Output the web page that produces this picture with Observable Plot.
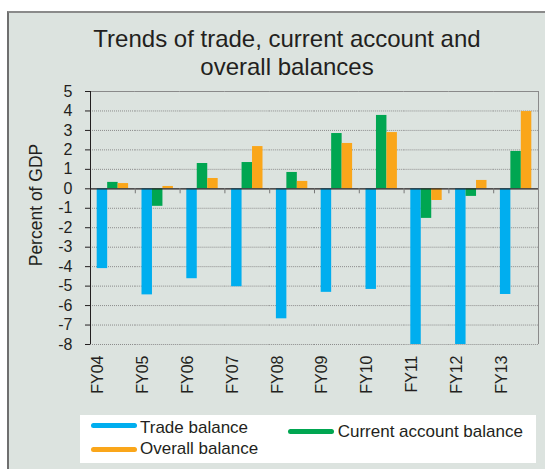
<!DOCTYPE html>
<html>
<head>
<meta charset="utf-8">
<script src="https://cdn.jsdelivr.net/npm/d3@7"></script>
<script src="https://cdn.jsdelivr.net/npm/@observablehq/plot@0.6"></script>
<style>
  html, body { margin: 0; padding: 0; background: #ffffff; }
  body { width: 545px; height: 469px; position: relative; overflow: hidden;
         font-family: "Liberation Sans", Arial, Helvetica, sans-serif; color: #231f20; }
  #frame { position: absolute; left: 7px; top: 11px; width: 560px; height: 480px;
           background: #dce3df; border-left: 2px solid #6f6f6f; border-top: 2px solid #8a8a8a; }
  #title { position: absolute; left: 37px; top: 25px; width: 500px; text-align: center;
           font-size: 24px; line-height: 28px; white-space: nowrap; }
  #ylabel { position: absolute; left: 36px; top: 205px; transform: translate(-50%, -50%) rotate(-90deg);
            font-size: 17.5px; white-space: nowrap; line-height: 17px; }
  #chart { position: absolute; left: 0; top: 80px; }
  #legend { position: absolute; left: 80px; top: 415px; width: 456px; height: 48px; background: #ffffff; }
  .sw { position: absolute; height: 5px; border-radius: 2.5px; width: 46px; }
  .lt { position: absolute; font-size: 17px; line-height: 17px; white-space: nowrap; }
</style>
</head>
<body>
<div id="frame"></div>
<div id="title">Trends of trade, current account and<br>overall balances</div>
<div id="ylabel">Percent of GDP</div>
<div id="chart"></div>
<div id="legend"></div>
<script>
// ---- data ----
const years = ["FY04", "FY05", "FY06", "FY07", "FY08", "FY09", "FY10", "FY11", "FY12", "FY13"];
const seriesNames = ["Trade balance", "Current account balance", "Overall balance"];
const seriesColors = ["#00aeef", "#00a651", "#faa61a"];
const tradeBalance   = [-4.10, -5.45, -4.62, -5.03, -6.68, -5.32, -5.17, -8.6, -8.4, -5.43];
const currentAccount = [ 0.33, -0.90,  1.30,  1.35,  0.84,  2.84,  3.77, -1.52, -0.39, 1.92];
const overallBalance = [ 0.27,  0.12,  0.53,  2.17,  0.38,  2.33,  2.89, -0.60,  0.43, 3.97];
const yTicks = [-8, -7, -6, -5, -4, -3, -2, -1, 0, 1, 2, 3, 4, 5];

const seriesValues = [tradeBalance, currentAccount, overallBalance];
const data = years.flatMap((yr, i) => seriesNames.map((s, k) => ({year: yr, series: s, value: seriesValues[k][i]})));

// ---- layout ----
const W = 545, H = 330, mL = 90, mR = 7, mT = 11, mB = 66;
const PO = 0.64;
const facetW = (W - mL - mR) / years.length;
const innerStep = facetW / (seriesNames.length + 2 * PO);
const edgeDx = innerStep / 2 + PO * innerStep;
const first = seriesNames[0], last = seriesNames[seriesNames.length - 1];
const ink = "#231f20", frameGrey = "#8a8a8a";

const chart = Plot.plot({
  width: W, height: H, marginLeft: mL, marginRight: mR, marginTop: mT, marginBottom: mB,
  style: {background: "transparent", fontFamily: "'Liberation Sans', Arial, sans-serif", fontSize: "16px", color: ink, overflow: "visible"},
  fx: {domain: years, padding: 0, round: false, axis: null, label: null},
  x: {domain: seriesNames, paddingInner: 0, paddingOuter: PO, round: false, axis: null},
  y: {domain: [-8, 5], clamp: true, axis: null},
  color: {domain: seriesNames, range: seriesColors},
  marks: [
    Plot.gridY(yTicks.filter(t => t !== 0 && t !== 5), {stroke: "#8c8c8c", strokeOpacity: 1, strokeDasharray: "1,1"}),
    Plot.ruleY([5], {stroke: frameGrey}),
    Plot.barY(data, {fx: "year", x: "series", y: "value", fill: "series"}),
    Plot.ruleY([0], {stroke: ink, strokeWidth: 1.3}),
    Plot.ruleX(years, {fx: d => d, x: () => last, dx: edgeDx, y1: 0, y2: 0, insetBottom: -5, stroke: "#777"}),
    Plot.ruleX([years[years.length - 1]], {fx: d => d, x: () => last, dx: edgeDx, y1: -8, y2: 5, stroke: frameGrey}),
    Plot.ruleX([years[0]], {fx: d => d, x: () => first, dx: -edgeDx, y1: -8, y2: 5, stroke: ink}),
    Plot.axisY({ticks: yTicks, tickSize: 5, tickPadding: 13, tickFormat: d => String(d), fontSize: 16, color: ink, label: null}),
    Plot.text(years, {fx: d => d, frameAnchor: "bottom", text: d => d, rotate: -90, textAnchor: "end", dy: 11, dx: -9.5, fontSize: 16, fill: ink})
  ]
});
document.getElementById("chart").appendChild(chart);

// ---- legend ----
const legend = document.getElementById("legend");
const legendPos = [
  {sw: [11, 8], tx: [60, 3.7]},      // Trade balance
  {sw: [208, 14], tx: [257.7, 7.7]}, // Current account balance
  {sw: [11, 32], tx: [60, 25.3]}     // Overall balance
];
seriesNames.forEach((s, k) => {
  const p = legendPos[k];
  const sw = document.createElement("div");
  sw.className = "sw";
  sw.style.left = p.sw[0] + "px"; sw.style.top = p.sw[1] + "px";
  sw.style.background = seriesColors[k];
  legend.appendChild(sw);
  const t = document.createElement("div");
  t.className = "lt";
  t.style.left = p.tx[0] + "px"; t.style.top = p.tx[1] + "px";
  t.textContent = s;
  legend.appendChild(t);
});
</script>
</body>
</html>
